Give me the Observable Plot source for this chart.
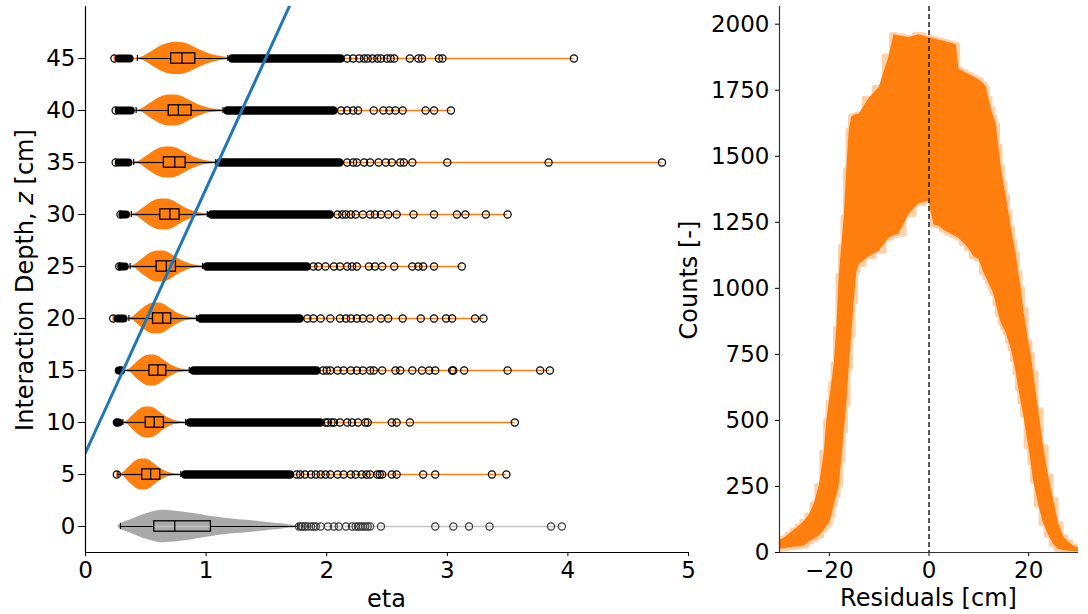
<!DOCTYPE html>
<html><head><meta charset="utf-8">
<script src="https://cdn.jsdelivr.net/npm/d3@7"></script>
<script src="https://cdn.jsdelivr.net/npm/@observablehq/plot@0.6"></script>
<style>
body{margin:0;background:#fff;}
#wrap{position:relative;width:1088px;height:614px;overflow:hidden;font-family:"DejaVu Sans",sans-serif;}
#wrap svg{position:absolute;top:0;}
.lbl{position:absolute;font-size:24px;line-height:24px;white-space:nowrap;color:#000;font-family:"DejaVu Sans",sans-serif;}
</style></head><body><div id="wrap"></div>
<script>
// ---------- left panel data ----------
const depths    = [0, 5, 10, 15, 20, 25, 30, 35, 40, 45];
const q1        = [0.57, 0.47, 0.50, 0.53, 0.56, 0.59, 0.62, 0.65, 0.69, 0.71];
const medians   = [0.74, 0.54, 0.57, 0.60, 0.64, 0.67, 0.70, 0.74, 0.77, 0.80];
const q3        = [1.04, 0.62, 0.65, 0.67, 0.71, 0.75, 0.78, 0.83, 0.88, 0.91];
const whiskerLo = [0.29, 0.27, 0.31, 0.32, 0.36, 0.37, 0.38, 0.40, 0.42, 0.43];
const whiskerHi = [1.76, 0.79, 0.83, 0.86, 0.92, 0.97, 1.01, 1.08, 1.14, 1.18];
const etaMin    = [0.29, 0.26, 0.26, 0.29, 0.23, 0.28, 0.29, 0.25, 0.25, 0.24];
const etaMax    = [3.95, 3.49, 3.56, 3.85, 3.30, 3.12, 3.50, 4.78, 3.03, 4.05];
const lowBandStart = [null, null, 0.28, 0.30, 0.27, 0.30, 0.31, 0.28, 0.28, 0.28];
const lowBandEnd   = [null, null, 0.27, 0.28, 0.32, 0.33, 0.34, 0.36, 0.38, 0.37];
const denseStart   = [null, 0.83, 0.87, 0.90, 0.96, 1.01, 1.05, 1.12, 1.18, 1.22];
const denseEnd     = [null, 1.70, 1.95, 1.92, 1.78, 1.84, 2.03, 2.11, 2.06, 2.12];
const violinPeak   = [0.60, 0.48, 0.52, 0.55, 0.59, 0.62, 0.65, 0.69, 0.72, 0.76];
const violinSpread = [1.00, 0.60, 0.62, 0.65, 0.70, 0.75, 0.80, 0.85, 0.90, 1.00];
const violinHalf   = [1.55, 1.50, 1.50, 1.50, 1.50, 1.50, 1.50, 1.50, 1.50, 1.55];
// orange violin profile: offsets from peak (eta) and relative half-widths
const violinOffset = [-0.34, -0.28, -0.22, -0.16, -0.10, -0.05, 0, 0.05, 0.10, 0.16, 0.22, 0.28, 0.34, 0.42, 0.50];
const violinWidth  = [0.00, 0.12, 0.38, 0.66, 0.88, 0.98, 1.00, 0.97, 0.86, 0.64, 0.44, 0.27, 0.15, 0.06, 0.00];
// grey (z = 0) violin profile
const grayEta   = [0.27, 0.30, 0.37, 0.45, 0.52, 0.60, 0.68, 0.79, 0.90, 1.00, 1.06, 1.15, 1.25, 1.34, 1.45, 1.55, 1.62, 1.70, 1.78, 1.85];
const grayWidth = [0.05, 0.20, 0.40, 0.65, 0.82, 0.97, 1.00, 0.92, 0.80, 0.67, 0.60, 0.51, 0.44, 0.38, 0.30, 0.22, 0.17, 0.10, 0.04, 0.00];
// individual outliers per depth
const outliers = [
  [1.77,1.79,1.80,1.82,1.84,1.87,1.89,1.91,1.95,2.01,2.06,2.10,2.16,2.21,2.24,2.26,2.28,2.30,2.32,2.34,2.36,2.45,2.90,3.05,3.18,3.35,3.86,3.95],
  [0.26,1.75,1.78,1.82,1.87,1.91,1.95,1.99,2.03,2.09,2.14,2.20,2.24,2.29,2.33,2.36,2.42,2.44,2.46,2.54,2.58,2.80,2.90,3.37,3.49],
  [0.26,1.99,2.01,2.04,2.06,2.11,2.17,2.21,2.26,2.32,2.34,2.54,2.58,2.69,3.56],
  [0.29,1.97,2.00,2.03,2.09,2.14,2.20,2.25,2.30,2.36,2.39,2.46,2.57,2.61,2.71,2.79,2.85,2.90,3.04,3.05,3.14,3.50,3.77,3.85],
  [0.23,1.84,1.89,1.95,2.03,2.11,2.16,2.20,2.25,2.30,2.36,2.45,2.51,2.63,2.78,2.89,2.99,3.04,3.23,3.30],
  [0.28,1.89,1.93,1.99,2.06,2.11,2.17,2.21,2.25,2.35,2.40,2.46,2.56,2.71,2.76,2.80,2.89,3.12],
  [0.29,2.09,2.13,2.16,2.20,2.24,2.30,2.36,2.40,2.45,2.51,2.58,2.72,2.89,3.08,3.15,3.32,3.50],
  [0.25,2.17,2.22,2.25,2.31,2.36,2.43,2.49,2.54,2.61,2.64,2.71,3.00,3.84,4.78],
  [0.25,2.12,2.17,2.22,2.26,2.39,2.47,2.52,2.57,2.63,2.82,2.89,3.03],
  [0.24,2.17,2.22,2.27,2.31,2.34,2.38,2.42,2.45,2.50,2.53,2.56,2.69,2.76,2.79,2.93,2.96,4.05]
];
// fitted line
const lineEta = [0, 1.69];
const lineZ   = [7.1, 50.0];
const xTicksL = [0, 1, 2, 3, 4, 5];
const yTicksL = [0, 5, 10, 15, 20, 25, 30, 35, 40, 45];

// ---------- right panel data ----------
const resX   = [-30,-29,-28,-27,-26,-25,-24,-23,-22,-21,-20.5,-20,-19.5,-19,-18.5,-18,-17.5,-17,-16.5,-16,-15.5,-15,-14.5,-14,-12,-10,-8,-7,-6,-4,-2,0,1,2,3,4,5,5.5,6,7,8,9,10,11,11.5,12,12.5,13,13.5,14,14.5,15,15.5,16,16.5,17,17.5,18,18.5,19,20,20.5,21,22,23,24,25,26,27,28,29,30];
const countHi= [45,55,70,85,100,118,142,185,255,380,500,570,640,715,850,1050,1160,1270,1450,1600,1650,1655,1658,1660,1720,1760,1880,1960,1955,1950,1960,1950,1945,1940,1935,1930,1925,1920,1830,1820,1810,1800,1790,1775,1760,1720,1680,1650,1620,1540,1460,1400,1350,1290,1230,1180,1130,1060,1000,920,800,750,680,540,400,290,200,110,60,40,25,17];
const countLo= [12,14,18,20,22,25,40,50,62,85,98,110,140,180,215,255,350,460,560,700,820,950,1060,1090,1120,1140,1190,1200,1205,1280,1320,1330,1240,1235,1220,1210,1200,1195,1190,1170,1150,1120,1110,1060,1040,1020,1000,980,940,900,870,850,830,800,770,730,680,620,570,520,400,340,270,180,110,65,30,12,8,5,4,3];
const xTicksR = [-20, 0, 20];
const yTicksR = [0, 250, 500, 750, 1000, 1250, 1500, 1750, 2000];

// ---------- build tables ----------
const orange = "#ff7f0e", grey = "#a9a9a9";
const rows = depths.map((d, i) => ({
  depth: d, q1: q1[i], med: medians[i], q3: q3[i], wlo: whiskerLo[i], whi: whiskerHi[i],
  min: etaMin[i], max: etaMax[i], lbs: lowBandStart[i], lbe: lowBandEnd[i],
  ds: denseStart[i], de: denseEnd[i], color: i === 0 ? grey : orange,
  barColor: i === 0 ? "#c4c4c4" : orange
}));
const violinPts = [];
depths.forEach((d, i) => {
  if (i === 0) {
    grayEta.forEach((e, k) => violinPts.push({depth: d, eta: e, y1: d - grayWidth[k] * violinHalf[i], y2: d + grayWidth[k] * violinHalf[i], color: grey}));
  } else {
    violinOffset.forEach((o, k) => violinPts.push({depth: d, eta: violinPeak[i] + o * violinSpread[i], y1: d - violinWidth[k] * violinHalf[i], y2: d + violinWidth[k] * violinHalf[i], color: orange}));
  }
});
const outPts = [];
outliers.forEach((list, i) => list.forEach(e => outPts.push({depth: depths[i], eta: e, color: i === 0 ? "#3a3a3a" : "#000"})));
const linePts = lineEta.map((e, i) => ({eta: e, z: lineZ[i]}));
const bandRows = rows.filter(r => r.lbs != null);
const denseRows = rows.filter(r => r.ds != null);
const fmt = d3.format("d");

const left = Plot.plot({
  width: 700, height: 614,
  marginLeft: 85, marginRight: 12, marginTop: 6, marginBottom: 62,
  style: {fontSize: "23px", fontFamily: "DejaVu Sans", background: "transparent", color: "#000", overflow: "visible"},
  color: {type: "identity"},
  x: {domain: [0, 5], ticks: xTicksL, tickSize: 4, tickPadding: 5, label: null, tickFormat: fmt},
  y: {domain: [-2.5, 50], ticks: yTicksL, tickSize: 7, tickPadding: 3, label: null, tickFormat: fmt},
  marks: [
    Plot.areaY(violinPts, {x: "eta", y1: "y1", y2: "y2", z: "depth", fill: "color", curve: "catmull-rom"}),
    Plot.ruleY(rows, {y: "depth", x1: "min", x2: "max", stroke: "barColor", strokeWidth: 1.5}),
    Plot.ruleX(rows, {x: "min", y1: d => d.depth - 0.3, y2: d => d.depth + 0.3, stroke: "barColor", strokeWidth: 1.5}),
    Plot.ruleY(rows, {y: "depth", x1: "wlo", x2: "q1", stroke: "#000", strokeWidth: 1.2}),
    Plot.ruleY(rows, {y: "depth", x1: "q3", x2: "whi", stroke: "#000", strokeWidth: 1.2}),
    Plot.ruleX(rows, {x: "wlo", y1: d => d.depth - 0.3, y2: d => d.depth + 0.3, stroke: "#000", strokeWidth: 1.2}),
    Plot.ruleX(rows, {x: "whi", y1: d => d.depth - 0.3, y2: d => d.depth + 0.3, stroke: "#000", strokeWidth: 1.2}),
    Plot.rect(rows, {x1: "q1", x2: "q3", y1: d => d.depth - 0.5, y2: d => d.depth + 0.5, fill: "none", stroke: "#000", strokeWidth: 1.3}),
    Plot.ruleX(rows, {x: "med", y1: d => d.depth - 0.5, y2: d => d.depth + 0.5, stroke: "#000", strokeWidth: 1.3}),
    Plot.ruleY(bandRows, {y: "depth", x1: "lbs", x2: "lbe", stroke: "#000", strokeWidth: 8, strokeLinecap: "round"}),
    Plot.ruleY(denseRows, {y: "depth", x1: "ds", x2: "de", stroke: "#000", strokeWidth: 8.5, strokeLinecap: "round"}),
    Plot.dot(outPts, {x: "eta", y: "depth", r: 3.6, stroke: "color", strokeWidth: 1.2, fill: "none"}),
    Plot.line(linePts, {x: "eta", y: "z", stroke: "#1f77b4", strokeWidth: 3, clip: true}),
    Plot.ruleX([0], {stroke: "#000", strokeWidth: 1.2}),
    Plot.ruleY([-2.5], {stroke: "#000", strokeWidth: 1.2})
  ]
});

const resPts = resX.map((x, i) => ({x, hi: countHi[i], lo: countLo[i]}));
const right = Plot.plot({
  width: 388, height: 614,
  marginLeft: 79, marginRight: 10, marginTop: 6, marginBottom: 62,
  style: {fontSize: "23px", fontFamily: "DejaVu Sans", background: "transparent", color: "#000", overflow: "visible"},
  x: {domain: [-30, 30], ticks: xTicksR, tickSize: 4, tickPadding: 5, label: null, tickFormat: fmt},
  y: {domain: [0, 2067], ticks: yTicksR, tickSize: 4, tickPadding: 6, label: null, tickFormat: fmt},
  marks: [
    Plot.lineY(resPts, {x: "x", y: "hi", stroke: "#fbb070", strokeWidth: 5, strokeOpacity: 0.6, curve: "step", clip: true}),
    Plot.lineY(resPts, {x: "x", y: "lo", stroke: "#fbb070", strokeWidth: 5, strokeOpacity: 0.6, curve: "step", clip: true}),
    Plot.areaY(resPts, {x: "x", y1: "lo", y2: "hi", fill: orange, curve: "linear", clip: true}),
    Plot.ruleX([0], {stroke: "#222", strokeWidth: 1.5, strokeDasharray: "5,3"}),
    Plot.ruleX([-30], {stroke: "#333", strokeWidth: 1.2}),
    Plot.ruleY([0], {stroke: "#333", strokeWidth: 1.2})
  ]
});

const wrap = document.getElementById("wrap");
left.style.left = "0px";
right.style.left = "700px";
wrap.appendChild(left);
wrap.appendChild(right);

function label(html, cx, top, rotate) {
  const d = document.createElement("div");
  d.className = "lbl";
  d.innerHTML = html;
  d.style.left = cx + "px";
  d.style.top = top + "px";
  d.style.transform = rotate ? "translate(-50%,-50%) rotate(-90deg)" : "translateX(-50%)";
  wrap.appendChild(d);
}
label("eta", 386.5, 586.5, false);
label("Residuals [cm]", 928.5, 585.5, false);
label("Interaction Depth, <i>z</i> [cm]", 25, 280, true);
label("Counts [-]", 689, 280, true);
</script></body></html>
